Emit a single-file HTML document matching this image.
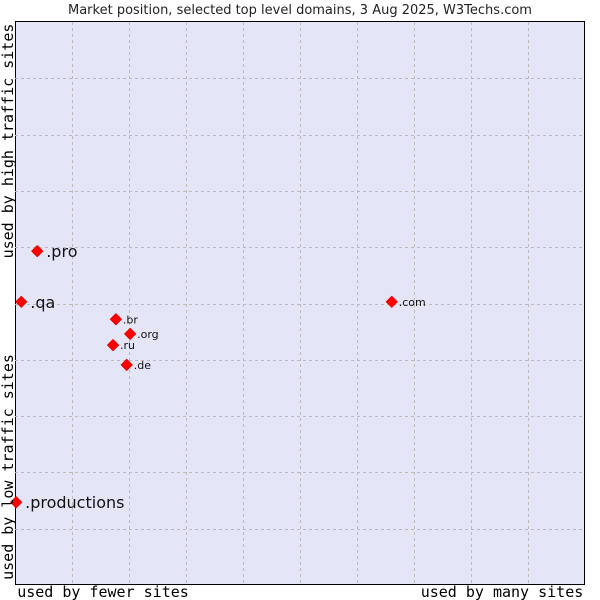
<!DOCTYPE html>
<html><head><meta charset="utf-8"><style>
body{margin:0;background:#fff;width:600px;height:600px;overflow:hidden}
svg{display:block;font-family:"DejaVu Sans","Liberation Sans",sans-serif}
</style></head><body>
<svg id="chart" width="600" height="600">
<text x="300" y="14" text-anchor="middle" font-size="13" fill="#222">Market position, selected top level domains, 3 Aug 2025, W3Techs.com</text>
<rect x="15.5" y="21.5" width="569" height="563" fill="#e4e6f8" stroke="#000" stroke-width="1"/>
<g id="grid"></g>
<g id="points"></g>
<text x="103" y="597" text-anchor="middle" font-size="15" font-family="DejaVu Sans Mono,Liberation Mono,monospace" fill="#000">used by fewer sites</text>
<text x="502" y="597" text-anchor="middle" font-size="15" font-family="DejaVu Sans Mono,Liberation Mono,monospace" fill="#000">used by many sites</text>
<text transform="translate(13,141) rotate(-90)" text-anchor="middle" font-size="15" font-family="DejaVu Sans Mono,Liberation Mono,monospace" fill="#000">used by high traffic sites</text>
<text transform="translate(13,467) rotate(-90)" text-anchor="middle" font-size="15" font-family="DejaVu Sans Mono,Liberation Mono,monospace" fill="#000">used by low traffic sites</text>
</svg>
<script>
const domains=[".pro",".qa",".com",".br",".org",".ru",".de",".productions"];
const xValues=[3.9,1.1,66.1,17.7,20.2,17.2,19.6,0.2];
const yValues=[59.3,50.3,50.3,47.2,44.6,42.6,39.1,14.7];
const bigLabel=[true,true,false,false,false,false,false,true];
const X0=15,X1=585,Y0=585,Y1=22;
function sx(v){return X0+(X1-X0)*v/100;}
function sy(v){return Y0-(Y0-Y1)*v/100;}
const NS="http://www.w3.org/2000/svg";
const grid=document.getElementById('grid');
for(let i=1;i<10;i++){
 const v=document.createElementNS(NS,'line');
 
 
 const x=Math.round(sx(i*10))+0.5;
 v.setAttribute('x1',x);v.setAttribute('x2',x);v.setAttribute('y1',Y1);v.setAttribute('y2',Y0);
 v.setAttribute('stroke','#bbb');v.setAttribute('stroke-dasharray','3,3');
 grid.appendChild(v);
 const h=document.createElementNS(NS,'line');
 
 
 const y=Math.round(sy(i*10))+0.5;
 h.setAttribute('x1',X0);h.setAttribute('x2',X1);h.setAttribute('y1',y);h.setAttribute('y2',y);
 h.setAttribute('stroke','#bbb');h.setAttribute('stroke-dasharray','3,3');
 grid.appendChild(h);
}
const pts=document.getElementById('points');
domains.forEach((d,i)=>{
 const x=sx(xValues[i]),y=sy(yValues[i]);
 const m=document.createElementNS(NS,'polygon');
 
 
 m.setAttribute('points',`${x},${y-5.5} ${x+5.5},${y} ${x},${y+5.5} ${x-5.5},${y}`);
 m.setAttribute('fill','#f00');
 m.setAttribute('stroke','#e00');
 m.setAttribute('stroke-linejoin','round');
 pts.appendChild(m);
 const t=document.createElementNS(NS,'text');
 
 
 t.setAttribute('x',x+(bigLabel[i]?9:7));
 t.setAttribute('y',y+(bigLabel[i]?6:4));
 t.setAttribute('font-size',bigLabel[i]?16:11);
 t.setAttribute('fill','#111');
 t.textContent=d;
 pts.appendChild(t);
});
</script>
</body></html>
